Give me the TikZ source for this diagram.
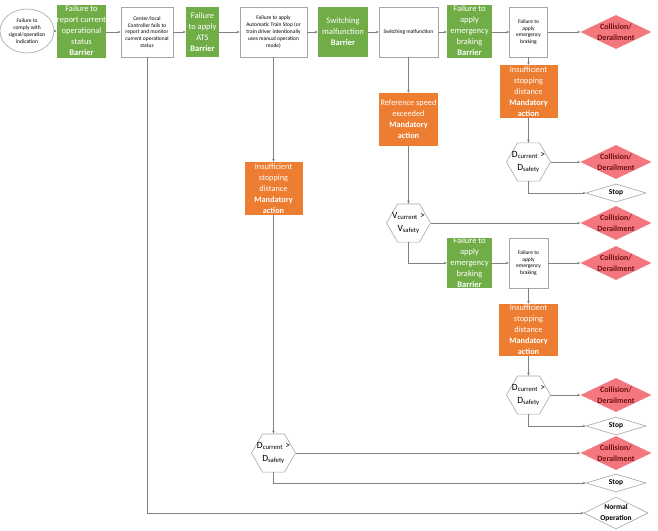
\documentclass[tikz,border=0pt]{standalone}
\usepackage{fontspec}
\setmainfont{Carlito}
\usetikzlibrary{shapes.geometric,arrows.meta}
\definecolor{gbar}{HTML}{70AD47}
\definecolor{oman}{HTML}{ED7D31}
\definecolor{rcol}{HTML}{F4777F}
\definecolor{rtext}{HTML}{6E1010}
\definecolor{lgray}{HTML}{A6A6A6}
\definecolor{lnk}{HTML}{808080}
\begin{document}
\begin{tikzpicture}[x=1pt,y=-1pt,
  box/.style={rectangle,inner sep=0pt,align=center},
  wbox/.style={box,draw=lgray,line width=0.6pt,fill=white,font=\fontsize{5.5}{6.8}\selectfont},
  gbox/.style={box,fill=gbar,text=white,font=\fontsize{8.5}{11}\selectfont},
  obox/.style={box,fill=oman,text=white,font=\fontsize{8.3}{11}\selectfont},
  ellnode/.style={ellipse,inner sep=0pt,draw=lgray,line width=0.6pt,fill=white,minimum width=54pt,minimum height=44pt},
  smalltext/.style={align=center,inner sep=0pt,font=\fontsize{5.5}{6.8}\selectfont},
  hexa/.style={regular polygon,regular polygon sides=6,minimum size=44pt,inner sep=0pt,draw=lgray,line width=0.6pt,fill=white},
  hext/.style={align=center,inner sep=0pt,font=\fontsize{9.5}{13}\selectfont},
  coll/.style={diamond,inner sep=0pt,fill=rcol,minimum width=71pt,minimum height=34pt},
  colltext/.style={align=center,inner sep=0pt,text=rtext,font=\bfseries\fontsize{8}{10.5}\selectfont},
  wdiam/.style={diamond,inner sep=0pt,draw=lgray,line width=0.6pt,fill=white,minimum width=60pt,minimum height=18pt},
  wdtext/.style={align=center,inner sep=0pt,font=\bfseries\fontsize{7.5}{10.5}\selectfont},
  arr/.style={draw=lnk,line width=0.6pt,-{Stealth[length=3pt,width=2.6pt]}}
]
\fill[white] (0,0) rectangle (658,530);
\useasboundingbox (0,0) rectangle (658,530);

% top row
\node[ellnode] (e0) at (27,31) {};
\node[smalltext] (e0t) at (e0) {Failure to\\comply with\\signal/operation\\indication};
\node[gbox,minimum width=49pt,minimum height=53pt] (g1) at (81.5,31) {Failure to\\report current\\operational\\status\\\textbf{Barrier}};
\node[wbox,minimum width=52pt,minimum height=50pt] (w1) at (147,32) {Center/local\\Controller fails to\\report and monitor\\current operational\\status};
\node[gbox,minimum width=33pt,minimum height=50pt] (g2) at (202.5,32) {Failure\\to apply\\ATS\\\textbf{Barrier}};
\node[wbox,minimum width=67pt,minimum height=50pt] (w2) at (273.5,32) {Failure to apply\\Automatic Train Stop (or\\train driver intentionally\\uses manual operation\\mode)};
\node[gbox,minimum width=50pt,minimum height=50pt] (g3) at (343,32) {Switching\\malfunction\\\textbf{Barrier}};
\node[wbox,minimum width=59pt,minimum height=50pt] (w3) at (408.5,32) {Switching malfunction};
\node[gbox,minimum width=45pt,minimum height=53pt] (g4) at (469.5,31) {Failure to\\apply\\emergency\\braking\\\textbf{Barrier}};
\node[wbox,minimum width=38pt,minimum height=50pt] (w4) at (528.5,32) {Failure to\\apply\\emergency\\braking};
\node[coll] (cA) at (616,32) {};
\node[colltext] (cAt) at (cA) {Collision/\\Derailment};

% right upper branch
\node[obox,minimum width=58pt,minimum height=53pt] (o3) at (528.5,91.5) {Insufficient\\stopping\\distance\\\textbf{Mandatory}\\\textbf{action}};
\node[hexa] (h3) at (528.5,162) {};
\node[hext] (h3t) at (h3) {D\textsubscript{current} >\\D\textsubscript{safety}};
\node[coll] (cB) at (616,162) {};
\node[colltext] (cBt) at (cB) {Collision/\\Derailment};
\node[wdiam] (s1) at (616,193) {};
\node[wdtext] (s1t) at (s1) {Stop};

% switching branch
\node[obox,minimum width=59pt,minimum height=53pt] (o2) at (408.5,119.5) {Reference speed\\exceeded\\\textbf{Mandatory}\\\textbf{action}};
\node[hexa] (h2) at (408.5,223) {};
\node[hext] (h2t) at (h2) {V\textsubscript{current} >\\V\textsubscript{safety}};
\node[coll] (cC) at (616,223) {};
\node[colltext] (cCt) at (cC) {Collision/\\Derailment};
\node[gbox,minimum width=45pt,minimum height=50pt] (g5) at (469.5,263) {Failure to\\apply\\emergency\\braking\\\textbf{Barrier}};
\node[wbox,minimum width=39pt,minimum height=50pt] (w5) at (528.5,263) {Failure to\\apply\\emergency\\braking};
\node[coll] (cD) at (616,263) {};
\node[colltext] (cDt) at (cD) {Collision/\\Derailment};
\node[obox,minimum width=59pt,minimum height=52pt] (o4) at (528.5,330) {Insufficient\\stopping\\distance\\\textbf{Mandatory}\\\textbf{action}};
\node[hexa] (h4) at (528.5,395) {};
\node[hext] (h4t) at (h4) {D\textsubscript{current} >\\D\textsubscript{safety}};
\node[coll] (cE) at (616,395) {};
\node[colltext] (cEt) at (cE) {Collision/\\Derailment};
\node[wdiam] (s2) at (616,426) {};
\node[wdtext] (s2t) at (s2) {Stop};

% ATS branch
\node[obox,minimum width=58pt,minimum height=53pt] (o1) at (273.5,188.5) {Insufficient\\stopping\\distance\\\textbf{Mandatory}\\\textbf{action}};
\node[hexa] (h1) at (273.5,453) {};
\node[hext] (h1t) at (h1) {D\textsubscript{current} >\\D\textsubscript{safety}};
\node[coll] (cF) at (616,453) {};
\node[colltext] (cFt) at (cF) {Collision/\\Derailment};
\node[wdiam] (s3) at (616,483) {};
\node[wdtext] (s3t) at (s3) {Stop};
\node[wdiam,minimum width=64pt,minimum height=32pt] (n1) at (616,513) {};
\node[wdtext] (n1t) at (n1) {Normal\\Operation};

% connectors top row
\draw[arr] (e0.east) -- (e0.east -| g1.west);
\draw[arr] (g1.east |- w1.west) -- (w1.west);
\draw[arr] (w1) -- (g2);
\draw[arr] (g2) -- (w2);
\draw[arr] (w2) -- (g3);
\draw[arr] (g3) -- (w3);
\draw[arr] (w3.east) -- (w3.east -| g4.west);
\draw[arr] (g4.east |- w4.west) -- (w4.west);
\draw[arr] (w4) -- (cA);

% verticals
\draw[arr] (w1.south) |- (n1.west);
\draw[arr] (w2.south) -- (o1.north);
\draw[arr] (o1.south) -- (h1.north);
\draw[arr] (h1.east) -- (cF.west);
\draw[arr] (h1.south) |- (s3.west);

\draw[arr] (w3.south) -- (o2.north);
\draw[arr] (o2.south) -- (h2.north);
\draw[arr] (h2.east) -- (cC.west);
\draw[arr] (h2.south) |- (g5.west);
\draw[arr] (g5) -- (w5);
\draw[arr] (w5) -- (cD);
\draw[arr] (w5.south) -- (o4.north);
\draw[arr] (o4.south) -- (h4.north);
\draw[arr] (h4.east) -- (cE.west);
\draw[arr] (h4.south) |- (s2.west);

\draw[arr] (w4.south) -- (o3.north);
\draw[arr] (o3.south) -- (h3.north);
\draw[arr] (h3.east) -- (cB.west);
\draw[arr] (h3.south) |- (s1.west);
\end{tikzpicture}
\end{document}
